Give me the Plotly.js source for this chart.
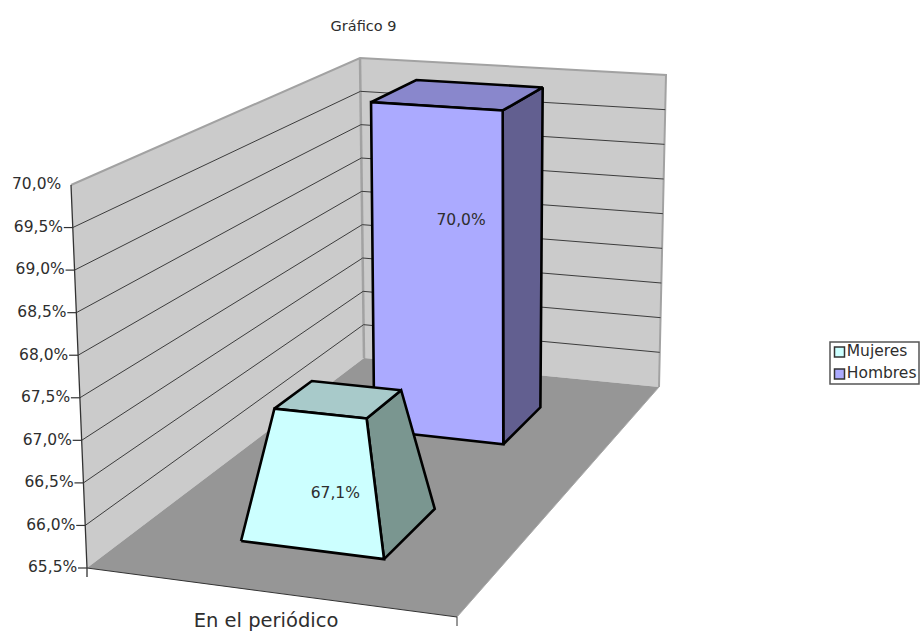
<!DOCTYPE html>
<html><head><meta charset="utf-8">
<script src="https://cdn.plot.ly/plotly-3.0.1.min.js"></script>
<style>html,body{margin:0;padding:0;background:#fff}</style>
</head><body><div id="chart" style="width:921px;height:634px"></div>
<script>
// ---- data ----
const category = "En el periódico";
const seriesNames = ["Mujeres", "Hombres"];
const seriesValues = [67.1, 70.0];
const tickValues = [65.5, 66, 66.5, 67, 67.5, 68, 68.5, 69, 69.5, 70];
const tickLabels = ["65,5%", "66,0%", "66,5%", "67,0%", "67,5%", "68,0%", "68,5%", "69,0%", "69,5%", "70,0%"];
const dataLabels = ["67,1%", "70,0%"];
const chartTitle = "Gráfico 9";

// ---- styles ----
const FONT = "DejaVu Sans";
const TXT = "#2e2e2e";
const faceColors = [
  {front: "#ccffff", top: "#a8caca", side: "#7a9690"},
  {front: "#abaaff", top: "#8987cc", side: "#625f90"}
];

// ---- the chart box, as seen by the camera: corners of the floor and of the roof plane ----
const floorC = {A: [87, 568], B: [457, 617], C: [364, 358], D: [659, 387]};
const roofC  = {A: [71, 185], B: [454, 214], C: [360, 58],  D: [666, 75]};
// footprint of each column on floor and at its top (fractions of box width and depth)
const foot = [
  {base: [0.285, 0.687, 0.19, 0.415], top: [0.375, 0.632, 0.208, 0.356], label: [0.66, 0.57]},
  {base: [0.29, 0.697, 0.705, 0.87], top: [0.297, 0.697, 0.70, 0.87], label: [0.68, 0.34]}
];
const vMin = tickValues[0], vMax = tickValues[tickValues.length - 1];
const frac = v => (v - vMin) / (vMax - vMin);
function bil(c, u, w) {
  return [0, 1].map(i => c.A[i]*(1-u)*(1-w) + c.B[i]*u*(1-w) + c.C[i]*(1-u)*w + c.D[i]*u*w);
}
function proj(u, w, value) {
  const t = frac(value), f = bil(floorC, u, w), r = bil(roofC, u, w);
  return [f[0] + (r[0]-f[0])*t, f[1] + (r[1]-f[1])*t];
}
const traces = [];
function poly(pts, fill, lineColor, lw) {
  const closed = pts.concat([pts[0]]);
  traces.push({type: "scatter", mode: "lines", x: closed.map(p => p[0]), y: closed.map(p => p[1]),
    fill: "toself", fillcolor: fill, line: {color: lineColor, width: lw, simplify: false},
    hoverinfo: "skip", showlegend: false});
}
function seg(pts, color, w) {
  traces.push({type: "scatter", mode: "lines", x: pts.map(p => p[0]), y: pts.map(p => p[1]),
    line: {color: color, width: w, simplify: false}, hoverinfo: "skip", showlegend: false});
}
function txt(x, y, text, size, pos) {
  traces.push({type: "scatter", mode: "text", x: [x], y: [y], text: [text], textposition: pos || "middle center",
    textfont: {family: FONT, size: size, color: TXT}, hoverinfo: "skip", showlegend: false});
}

// walls and floor
const W = "#cbcbcb", WE = "#a2a2a2";
poly([proj(0,1,vMin), proj(1,1,vMin), proj(1,1,vMax), proj(0,1,vMax)], W, W, 0);
poly([proj(0,0,vMin), proj(0,1,vMin), proj(0,1,vMax), proj(0,0,vMax)], W, W, 0);
poly([proj(0,0,vMin), proj(1,0,vMin), proj(1,1,vMin), proj(0,1,vMin)], "#969696", "#969696", 0);
seg([proj(0,0,vMax), proj(0,1,vMax), proj(1,1,vMax), proj(1,1,vMin)], WE, 2);
seg([proj(0,1,vMax), proj(0,1,vMin)], WE, 2.5);
seg([proj(1,0,vMin), proj(1,1,vMin)], "#a8a8a8", 1);

// gridlines
tickValues.slice(1, -1).forEach(v => seg([proj(0,0,v), proj(0,1,v), proj(1,1,v)], "#3c3c3c", 1));

// axis lines and ticks
const A0 = proj(0,0,vMin), B0 = proj(1,0,vMin);
seg([proj(0,0,vMax), A0, [A0[0], A0[1]+9]], "#333333", 1.3);
seg([A0, B0, [B0[0], B0[1]+9]], "#333333", 1);
tickValues.slice(0, -1).forEach(v => { const p = proj(0,0,v); seg([[p[0]-9, p[1]], p], "#333333", 1.2); });
tickValues.forEach((v, i) => { const p = proj(0,0,v); txt(p[0]-59, p[1]+0.5, tickLabels[i], 15.5, "middle right"); });

// columns, back one first
[1, 0].forEach(i => {
  const v = seriesValues[i], f = foot[i], c = faceColors[i];
  const [bl, br, bf, bb] = f.base, [tl, tr, tf, tb] = f.top;
  const FLb = proj(bl,bf,vMin), FRb = proj(br,bf,vMin), BRb = proj(br,bb,vMin);
  const FLt = proj(tl,tf,v), FRt = proj(tr,tf,v), BRt = proj(tr,tb,v), BLt = proj(tl,tb,v);
  poly([FRb, BRb, BRt, FRt], c.side, "#000", 2.6);
  poly([FLt, FRt, BRt, BLt], c.top, "#000", 2.6);
  poly([FLb, FRb, FRt, FLt], c.front, "#000", 2.6);
  const [lx, ly] = f.label;
  const L = [FLt[0]+(FLb[0]-FLt[0])*ly, FLt[1]+(FLb[1]-FLt[1])*ly];
  const R = [FRt[0]+(FRb[0]-FRt[0])*ly, FRt[1]+(FRb[1]-FRt[1])*ly];
  txt(L[0]+(R[0]-L[0])*lx, L[1]+(R[1]-L[1])*lx, dataLabels[i], 15.5);
});

// category label
txt(266, 622, category, 19.5);

// legend
const legX = 839.5, legY = [352, 374];
seriesNames.forEach((n, i) => {
  traces.push({type: "scatter", mode: "markers+text", x: [legX], y: [legY[i]], text: [n], textposition: "middle right",
    marker: {symbol: "square", size: 10, color: faceColors[i].front, line: {color: "#333", width: 1.5}},
    textfont: {family: FONT, size: 15.5, color: TXT}, hoverinfo: "skip", showlegend: false, name: n, cliponaxis: false});
});

const layout = {
  width: 921, height: 634, margin: {l: 0, r: 0, t: 0, b: 0},
  paper_bgcolor: "#fff", plot_bgcolor: "#fff", showlegend: false, hovermode: false,
  title: {text: chartTitle, x: 363.5/921, xanchor: "center", xref: "paper", y: 1-26/634, yanchor: "middle", yref: "paper",
          font: {family: FONT, size: 14.5, color: TXT}},
  xaxis: {range: [0, 921], visible: false, fixedrange: true},
  yaxis: {range: [634, 0], visible: false, fixedrange: true},
  shapes: [{type: "rect", xref: "x", yref: "y", x0: 830, x1: 919, y0: 342, y1: 384,
            line: {color: "#555", width: 1.5}, fillcolor: "rgba(0,0,0,0)"}]
};
Plotly.newPlot("chart", traces, layout, {staticPlot: true, displayModeBar: false});
</script></body></html>
